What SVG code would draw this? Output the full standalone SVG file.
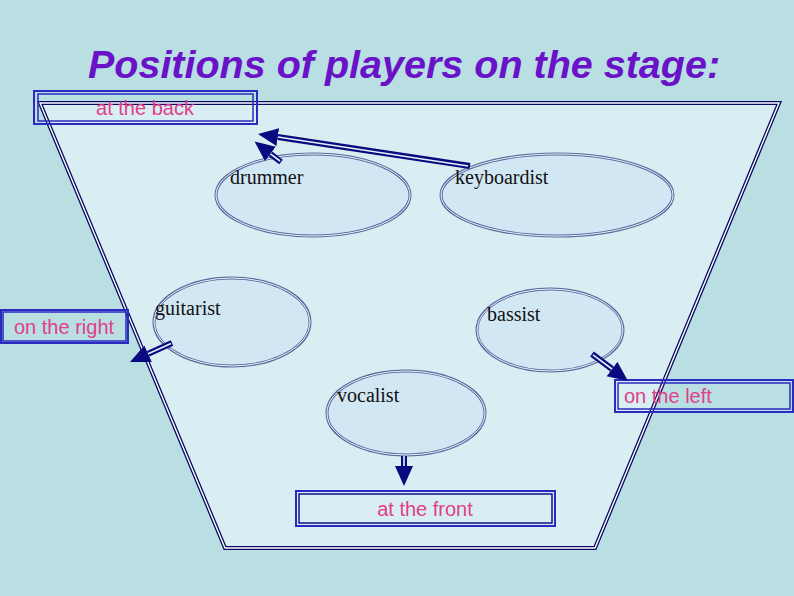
<svg xmlns="http://www.w3.org/2000/svg" width="794" height="596" viewBox="0 0 794 596">
<style>
.ell-o{fill:#d2e7f4;stroke:#5a6aa0;stroke-width:3}
.ell-i{fill:none;stroke:#e8f2f8;stroke-width:1}
.lbl{font-family:"Liberation Serif",serif;font-size:20px;fill:#111}
.box-o{fill:none;stroke:#2a2ac0;stroke-width:2}
.box-i{fill:none;stroke:#2a2ac0;stroke-width:1.5}
.pos{font-family:"Liberation Sans",Arial,sans-serif;font-size:20px;fill:#e0408a}
.shaft{fill:none;stroke:#0a0a80;stroke-width:6;marker-end:url(#head)}
.gap{fill:none;stroke:#e6f2f6;stroke-width:1.6}
</style>
<defs>
<marker id="head" markerUnits="userSpaceOnUse" markerWidth="22" markerHeight="20" refX="0" refY="9" orient="auto">
<path d="M0,0 L20,9 L0,18 z" fill="#0a0a80"/>
</marker>
</defs>
<rect width="794" height="596" fill="#b9dfe3"/>
<text x="404" y="78" text-anchor="middle" font-family="Liberation Sans,Arial,sans-serif" font-weight="bold" font-style="italic" font-size="39.5" fill="#6a12c8">Positions of players on the stage:</text>
<g id="stage">
<polygon points="40,103 779,103 595,548 225,548" fill="#d9eef2" stroke="#0a0a60" stroke-width="4"/>
<polygon points="40,103 779,103 595,548 225,548" fill="none" stroke="#ffffff" stroke-width="1.4"/>
</g>
<g id="drummer">
<ellipse class="ell-o" cx="313" cy="195" rx="97" ry="41"/>
<ellipse class="ell-i" cx="313" cy="195" rx="97" ry="41"/>
<text class="lbl" x="230" y="184">drummer</text>
</g>
<g id="keyboardist">
<ellipse class="ell-o" cx="557" cy="195" rx="116" ry="41"/>
<ellipse class="ell-i" cx="557" cy="195" rx="116" ry="41"/>
<text class="lbl" x="455" y="184">keyboardist</text>
</g>
<g id="guitarist">
<ellipse class="ell-o" cx="232" cy="322" rx="78" ry="44"/>
<ellipse class="ell-i" cx="232" cy="322" rx="78" ry="44"/>
<text class="lbl" x="155" y="315">guitarist</text>
</g>
<g id="bassist">
<ellipse class="ell-o" cx="550" cy="330" rx="73" ry="41"/>
<ellipse class="ell-i" cx="550" cy="330" rx="73" ry="41"/>
<text class="lbl" x="487" y="321">bassist</text>
</g>
<g id="vocalist">
<ellipse class="ell-o" cx="406" cy="413" rx="79" ry="42"/>
<ellipse class="ell-i" cx="406" cy="413" rx="79" ry="42"/>
<text class="lbl" x="337" y="402">vocalist</text>
</g>
<g id="at-the-back">
<rect class="box-o" x="34" y="91" width="223" height="33"/>
<rect class="box-i" x="38" y="94" width="215" height="27"/>
<text class="pos" x="145" y="115" text-anchor="middle">at the back</text>
</g>
<g id="on-the-right">
<rect x="1" y="310" width="127" height="33" fill="#c4e4ea" class="box-o"/>
<rect class="box-i" x="3" y="312" width="123" height="29"/>
<text class="pos" x="14" y="334">on the right</text>
</g>
<g id="on-the-left">
<rect x="615" y="380" width="178" height="32" fill="#c0e2e8" class="box-o"/>
<rect class="box-i" x="618" y="383" width="172" height="26"/>
<text class="pos" x="624" y="403">on the left</text>
</g>
<g id="at-the-front">
<rect x="296" y="491" width="259" height="35" fill="#eef8f8" class="box-o"/>
<rect x="299" y="494" width="253" height="29" fill="none" stroke="#10108a" stroke-width="1.5"/>
<text class="pos" x="425" y="516" text-anchor="middle">at the front</text>
</g>
<g id="connectors">
<path class="shaft" d="M470,166 L277.8,137"/>
<path class="gap" d="M468,166 L278,137"/>
<path class="shaft" d="M281,162 L270.4,153.8"/>
<path class="gap" d="M280,161 L270.5,153.8"/>
<path class="shaft" d="M172,343 L148.2,353.8"/>
<path class="gap" d="M171,343.5 L148.2,353.8"/>
<path class="shaft" d="M592,354 L612,369"/>
<path class="gap" d="M593,354.8 L612,369"/>
<path class="shaft" d="M404,456 L404,466"/>
<path class="gap" d="M404,456 L404,466"/>
</g>
</svg>
